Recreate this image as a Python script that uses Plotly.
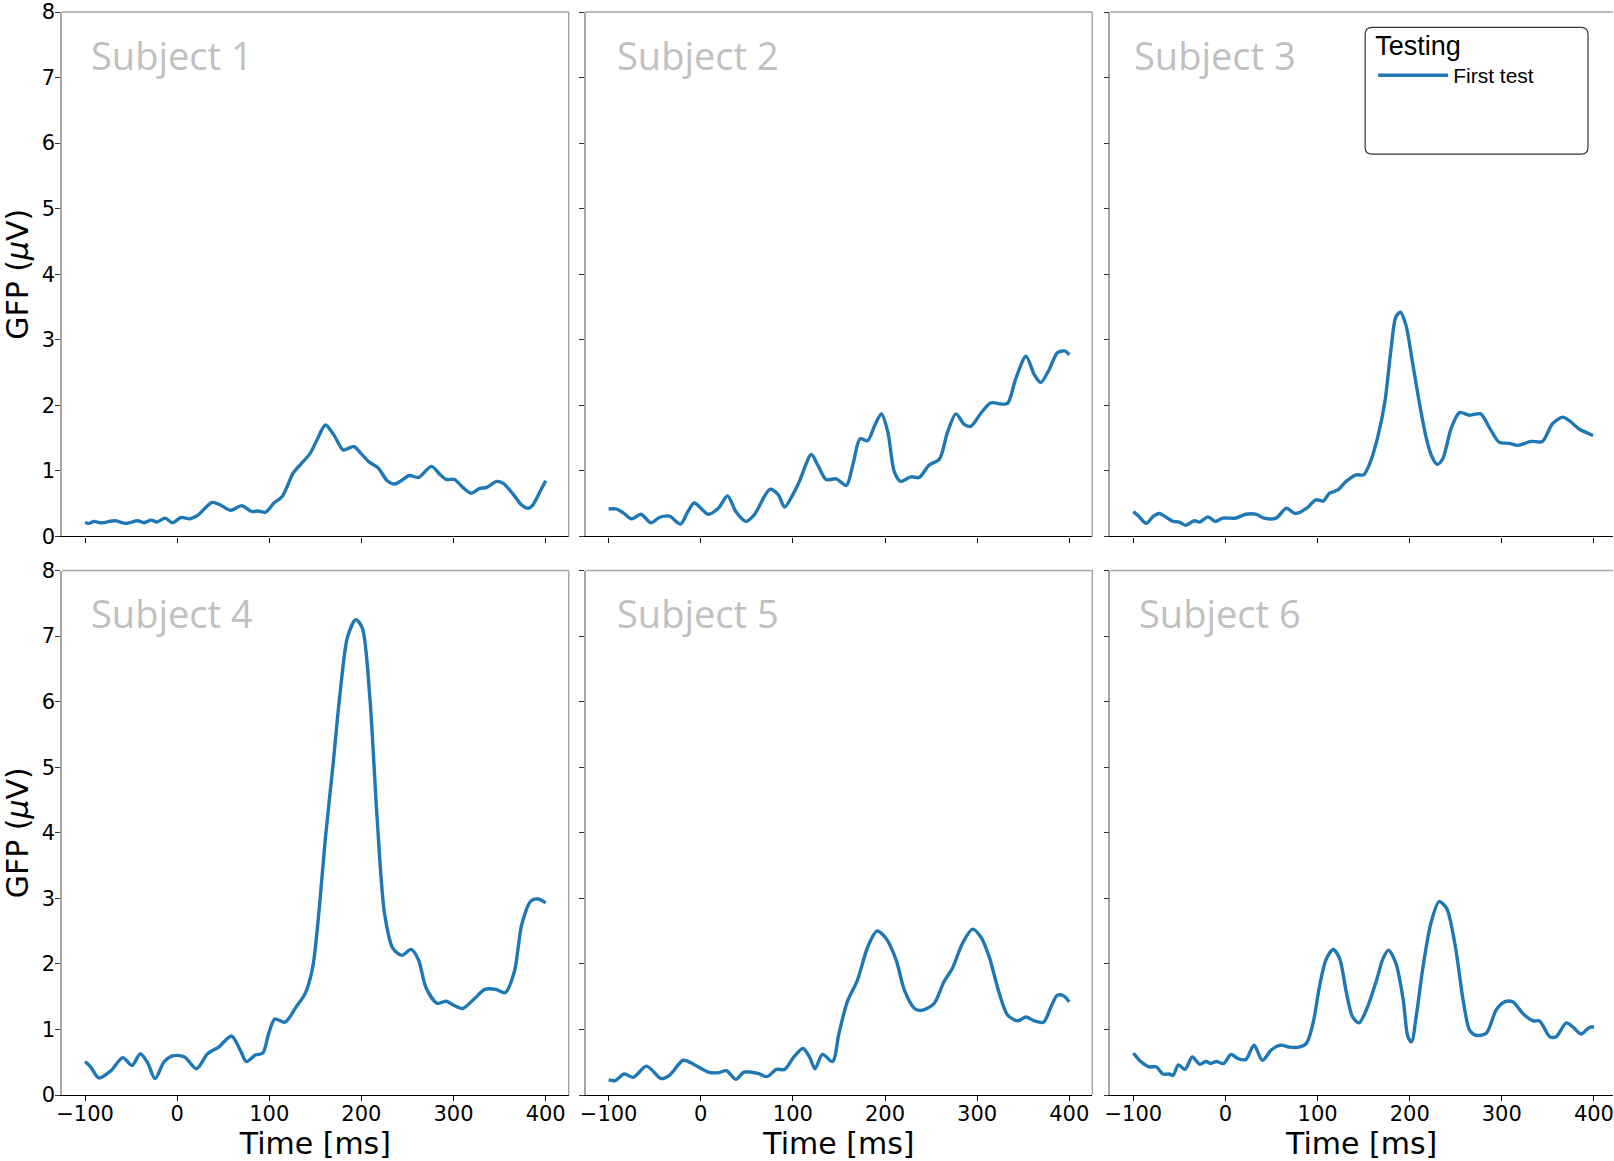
import plotly.graph_objects as go

# ---- data: global field power per subject (time in ms, GFP in microvolts) ----
subjects = ["Subject 1", "Subject 2", "Subject 3", "Subject 4", "Subject 5", "Subject 6"]
series_name = "First test"
legend_title = "Testing"

t1 = [-100, -96, -90, -83, -67, -56, -43, -36, -28, -22, -13, -5, 4, 14, 22, 38, 47, 58, 70, 81,
      88, 96, 105, 114, 126, 134, 144, 152, 161, 170, 180, 185, 192, 200, 209, 218, 228, 236, 243, 252,
      262, 276, 285, 292, 301, 310, 319, 328, 336, 347, 354, 365, 374, 381, 386, 394, 400]
g1 = [0.21, 0.20, 0.23, 0.21, 0.24, 0.20, 0.24, 0.21, 0.25, 0.22, 0.28, 0.21, 0.29, 0.27, 0.32, 0.52, 0.48, 0.40, 0.47, 0.38,
      0.39, 0.37, 0.51, 0.61, 0.97, 1.10, 1.26, 1.48, 1.70, 1.55, 1.32, 1.34, 1.37, 1.26, 1.13, 1.05, 0.85, 0.80, 0.85, 0.93,
      0.90, 1.07, 0.95, 0.87, 0.87, 0.75, 0.66, 0.73, 0.75, 0.84, 0.81, 0.64, 0.48, 0.43, 0.48, 0.69, 0.85]

t2 = [-100, -92, -84, -75, -65, -54, -45, -34, -22, -14, -7, 8, 19, 29, 38, 49, 58, 75, 84, 91,
      100, 107, 120, 127, 136, 147, 158, 165, 173, 181, 189, 196, 203, 210, 217, 228, 237, 248, 259, 268,
      277, 286, 293, 304, 315, 326, 333, 342, 353, 362, 369, 378, 387, 395, 400]
g2 = [0.42, 0.42, 0.36, 0.27, 0.34, 0.21, 0.29, 0.31, 0.19, 0.38, 0.51, 0.34, 0.43, 0.62, 0.38, 0.23, 0.33, 0.72, 0.64, 0.45,
      0.64, 0.84, 1.25, 1.09, 0.87, 0.88, 0.78, 1.09, 1.49, 1.46, 1.70, 1.87, 1.60, 0.99, 0.84, 0.91, 0.90, 1.09, 1.18, 1.60,
      1.87, 1.71, 1.68, 1.88, 2.04, 2.02, 2.03, 2.41, 2.75, 2.47, 2.35, 2.54, 2.80, 2.83, 2.77]

t3 = [-100, -95, -86, -79, -72, -57, -50, -43, -34, -28, -19, -11, -3, 11, 22, 33, 42, 55, 66, 76,
      89, 98, 106, 113, 122, 131, 142, 150, 156, 165, 173, 180, 185, 190, 196, 203, 211, 218, 224, 230,
      236, 245, 254, 265, 277, 287, 297, 308, 317, 332, 344, 355, 366, 373, 384, 399]
g3 = [0.38, 0.32, 0.20, 0.30, 0.35, 0.23, 0.22, 0.17, 0.24, 0.22, 0.30, 0.23, 0.28, 0.28, 0.34, 0.34, 0.28, 0.28, 0.43, 0.35,
      0.44, 0.56, 0.54, 0.66, 0.71, 0.84, 0.94, 0.94, 1.09, 1.50, 2.05, 2.89, 3.35, 3.42, 3.22, 2.66, 2.00, 1.50, 1.22, 1.10,
      1.19, 1.65, 1.89, 1.85, 1.87, 1.65, 1.44, 1.42, 1.39, 1.45, 1.45, 1.72, 1.82, 1.77, 1.64, 1.54]

t4 = [-100, -94, -85, -72, -59, -49, -40, -32, -24, -14, -4, 8, 21, 33, 45, 59, 69, 75, 85, 93,
      99, 106, 117, 129, 139, 147, 153, 161, 169, 177, 185, 194, 201, 209, 217, 225, 234, 244, 254, 262,
      270, 282, 292, 300, 310, 322, 334, 346, 356, 366, 374, 384, 392, 400]
g4 = [0.51, 0.43, 0.26, 0.37, 0.57, 0.45, 0.63, 0.49, 0.25, 0.51, 0.60, 0.58, 0.40, 0.63, 0.73, 0.90, 0.67, 0.51, 0.61, 0.64,
      0.92, 1.16, 1.11, 1.34, 1.55, 1.94, 2.66, 3.93, 5.01, 6.15, 6.99, 7.25, 7.12, 6.09, 4.23, 2.78, 2.24, 2.13, 2.22, 2.06,
      1.64, 1.40, 1.43, 1.37, 1.32, 1.46, 1.61, 1.61, 1.56, 1.88, 2.60, 2.96, 2.99, 2.93]

t5 = [-100, -93, -83, -73, -59, -43, -34, -19, -8, 8, 19, 28, 38, 47, 62, 72, 82, 91, 101, 111,
      118, 124, 132, 143, 150, 159, 170, 181, 191, 201, 212, 221, 232, 239, 253, 264, 273, 284, 295, 304,
      313, 324, 333, 344, 353, 362, 372, 380, 387, 394, 400]
g5 = [0.23, 0.22, 0.32, 0.27, 0.44, 0.25, 0.30, 0.53, 0.47, 0.35, 0.34, 0.37, 0.24, 0.35, 0.33, 0.28, 0.39, 0.39, 0.58, 0.71,
      0.58, 0.40, 0.62, 0.51, 0.94, 1.42, 1.75, 2.25, 2.50, 2.39, 2.06, 1.60, 1.32, 1.29, 1.39, 1.73, 1.93, 2.31, 2.53, 2.41,
      2.11, 1.55, 1.22, 1.13, 1.19, 1.13, 1.11, 1.34, 1.52, 1.51, 1.42]

t6 = [-100, -97, -92, -83, -75, -68, -61, -57, -51, -44, -36, -28, -21, -16, -10, -2, 6, 13, 22, 31,
      40, 50, 60, 69, 80, 88, 95, 102, 109, 117, 124, 131, 138, 145, 153, 164, 171, 177, 185, 193,
      198, 202, 207, 214, 223, 232, 240, 249, 258, 265, 272, 283, 294, 303, 312, 323, 334, 341, 352, 359,
      370, 377, 386, 395, 400]
g6 = [0.64, 0.59, 0.51, 0.43, 0.43, 0.32, 0.32, 0.30, 0.46, 0.39, 0.58, 0.47, 0.51, 0.48, 0.51, 0.48, 0.62, 0.56, 0.54, 0.76,
      0.53, 0.69, 0.76, 0.73, 0.73, 0.79, 1.09, 1.65, 2.06, 2.22, 2.08, 1.58, 1.19, 1.10, 1.30, 1.75, 2.08, 2.21, 2.01, 1.45,
      0.89, 0.81, 1.19, 1.91, 2.62, 2.95, 2.85, 2.31, 1.45, 0.99, 0.91, 0.94, 1.30, 1.42, 1.42, 1.24, 1.13, 1.13, 0.89, 0.89,
      1.10, 1.04, 0.93, 1.03, 1.04]

times = [t1, t2, t3, t4, t5, t6]
gfp = [g1, g2, g3, g4, g5, g6]

x_ticks = [-100, 0, 100, 200, 300, 400]
y_ticks = [0, 1, 2, 3, 4, 5, 6, 7, 8]

# ---- layout geometry ----
W, H = 1614, 1161
ML, MR, MT, MB = 62, 0, 9, 66
PW = W - ML - MR
PH = H - MT - MB

x_domains = [(0.0, 0.3267), (0.3376, 0.6643), (0.6759, 1.0)]
y_domains = [(0.5157, 1.0), (0.0, 0.4843)]
x_ranges = [[-125, 425], [-125, 425], [-125, 420.7]]
label_offsets = [27, 29, 22, 27, 29, 27]   # px from the left spine to each subject label

LINE_BLUE = "#1f77b4"
TICK_FONT = dict(family="DejaVu Sans", size=21, color="black")
TITLE_FONT = dict(family="DejaVu Sans", size=30, color="black")

fig = go.Figure()
layout = dict(
    width=W, height=H,
    margin=dict(l=ML, r=MR, t=MT, b=MB, pad=0),
    paper_bgcolor="white", plot_bgcolor="white",
    showlegend=True,
)
shapes = []
annotations = []

for i in range(6):
    row, col = divmod(i, 3)
    n = i + 1
    xa = "xaxis" if n == 1 else f"xaxis{n}"
    ya = "yaxis" if n == 1 else f"yaxis{n}"
    xr = "x" if n == 1 else f"x{n}"
    yr = "y" if n == 1 else f"y{n}"

    fig.add_trace(go.Scatter(
        x=times[i], y=gfp[i], mode="lines",
        line=dict(color=LINE_BLUE, width=3.4, shape="spline", smoothing=0.8),
        name=series_name, showlegend=(i == 0),
        xaxis=xr, yaxis=yr,
    ))

    bottom = row == 1
    left = col == 0
    layout[xa] = dict(
        domain=list(x_domains[col]), range=x_ranges[col], anchor=yr,
        tickmode="array", tickvals=x_ticks,
        ticks="outside", ticklen=5, tickwidth=1.2, tickcolor="black",
        showticklabels=bottom, tickfont=TICK_FONT,
        ticklabelstandoff=-5, ticklabeloverflow="allow",
        showline=True, linecolor="black", linewidth=1.4, mirror=False,
        showgrid=False, zeroline=False,
        title=dict(text="Time [ms]" if bottom else "", font=TITLE_FONT, standoff=3),
    )
    layout[ya] = dict(
        domain=list(y_domains[row]), range=[0, 8], anchor=xr,
        tickmode="array", tickvals=y_ticks,
        ticks="outside", ticklen=5, tickwidth=1.2, tickcolor="#333333",
        showticklabels=left, tickfont=TICK_FONT,
        ticklabelstandoff=-4,
        showline=True, linecolor="#a6a6a6", linewidth=1.5, mirror=False,
        showgrid=False, zeroline=False,
        title=dict(text="GFP (<i>μ</i>V)" if left else "", font=TITLE_FONT, standoff=12),
    )

    # top and right frame edges
    dref_x = f"{xr} domain"
    dref_y = f"{yr} domain"
    shapes.append(dict(type="line", xref=dref_x, yref=dref_y, x0=0, x1=1, y0=1, y1=1,
                       line=dict(color="#a6a6a6", width=1.5), layer="above"))
    if col < 2:
        shapes.append(dict(type="line", xref=dref_x, yref=dref_y, x0=1, x1=1, y0=0, y1=1,
                           line=dict(color="#a6a6a6", width=1.5), layer="above"))

    annotations.append(dict(
        text=subjects[i], xref=dref_x, yref=dref_y, x=label_offsets[i] / 507, y=1 - 43 / 526,
        xanchor="left", yanchor="middle", showarrow=False,
        font=dict(family="Open Sans", size=38, color="#c0c0c0"),
    ))

# rounded legend frame
def px_to_paper(px, py):
    return (px - ML) / PW, (H - MB - py) / PH

bx0, by1 = px_to_paper(1366, 24.5)
bx1, by0 = px_to_paper(1589, 151.5)
rx, ry = 7 / PW, 7 / PH
frame_path = (
    f"M {bx0 + rx},{by1} L {bx1 - rx},{by1} Q {bx1},{by1} {bx1},{by1 - ry} "
    f"L {bx1},{by0 + ry} Q {bx1},{by0} {bx1 - rx},{by0} "
    f"L {bx0 + rx},{by0} Q {bx0},{by0} {bx0},{by0 + ry} "
    f"L {bx0},{by1 - ry} Q {bx0},{by1} {bx0 + rx},{by1} Z"
)
shapes.append(dict(type="path", xref="paper", yref="paper", path=frame_path,
                   line=dict(color="#333333", width=1.2), fillcolor="white", layer="above"))

lx, ly = px_to_paper(1374, 17)
layout["legend"] = dict(
    x=lx, y=ly, xanchor="left", yanchor="top",
    bgcolor="rgba(0,0,0,0)", borderwidth=0,
    title=dict(text=legend_title, font=dict(family="Liberation Sans", size=27, color="black")),
    font=dict(family="Liberation Sans", size=21, color="black"),
    itemwidth=70, tracegroupgap=0,
)
layout["shapes"] = shapes
layout["annotations"] = annotations

fig.update_layout(**layout)
fig.write_html("out.html")
